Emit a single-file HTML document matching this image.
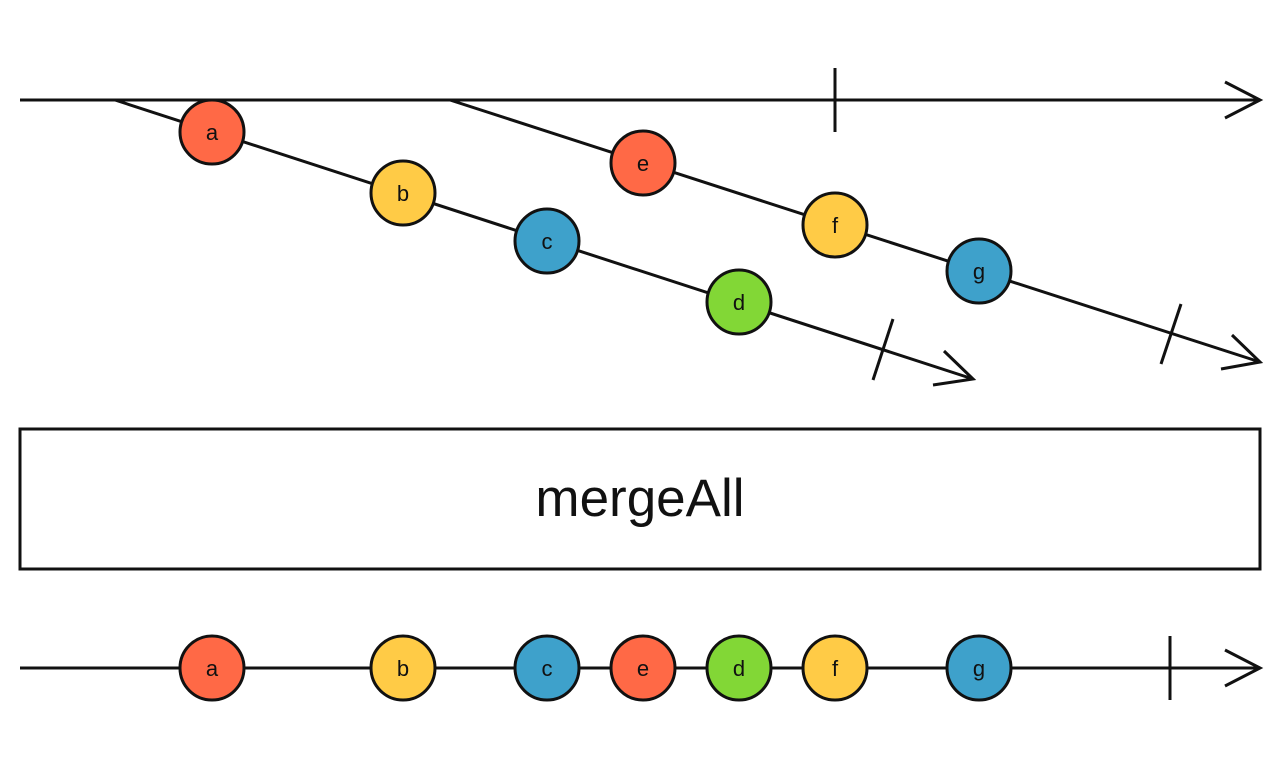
<!DOCTYPE html>
<html><head><meta charset="utf-8"><style>html,body{margin:0;padding:0;background:#fff;}svg{display:block}</style></head>
<body>
<svg width="1280" height="768" viewBox="0 0 1280 768" xmlns="http://www.w3.org/2000/svg">
<g stroke="#111" stroke-width="3" fill="none" stroke-linecap="butt">
<line x1="20" y1="100" x2="1260" y2="100"/>
<polyline points="1225,82 1260,100 1225,118"/>
<line x1="835" y1="68" x2="835" y2="132"/>
<line x1="115" y1="100" x2="973" y2="379"/>
<polyline points="944,351 973,379 933,385"/>
<line x1="893" y1="319" x2="873" y2="380"/>
<line x1="450" y1="100" x2="1260" y2="362"/>
<polyline points="1232,335 1260,362 1221,369"/>
<line x1="1181" y1="304" x2="1161" y2="364"/>
<rect x="20" y="429" width="1240" height="140"/>
<line x1="20" y1="668" x2="1260" y2="668"/>
<polyline points="1225,650 1260,668 1225,686"/>
<line x1="1170" y1="636" x2="1170" y2="700"/>
</g>
<g stroke="#111" stroke-width="3">
<circle cx="212" cy="132" r="32" fill="#ff6946"/>
<circle cx="403" cy="193" r="32" fill="#ffcb46"/>
<circle cx="547" cy="241" r="32" fill="#3ea1cb"/>
<circle cx="739" cy="302" r="32" fill="#82d736"/>
<circle cx="643" cy="163" r="32" fill="#ff6946"/>
<circle cx="835" cy="225" r="32" fill="#ffcb46"/>
<circle cx="979" cy="271" r="32" fill="#3ea1cb"/>
<circle cx="212" cy="668" r="32" fill="#ff6946"/>
<circle cx="403" cy="668" r="32" fill="#ffcb46"/>
<circle cx="547" cy="668" r="32" fill="#3ea1cb"/>
<circle cx="643" cy="668" r="32" fill="#ff6946"/>
<circle cx="739" cy="668" r="32" fill="#82d736"/>
<circle cx="835" cy="668" r="32" fill="#ffcb46"/>
<circle cx="979" cy="668" r="32" fill="#3ea1cb"/>
</g>
<g fill="#111" font-family="Liberation Sans, sans-serif" font-size="22" text-anchor="middle">
<text x="212" y="140">a</text>
<text x="403" y="201">b</text>
<text x="547" y="249">c</text>
<text x="739" y="310">d</text>
<text x="643" y="171">e</text>
<text x="835" y="233">f</text>
<text x="979" y="279">g</text>
<text x="212" y="676">a</text>
<text x="403" y="676">b</text>
<text x="547" y="676">c</text>
<text x="643" y="676">e</text>
<text x="739" y="676">d</text>
<text x="835" y="676">f</text>
<text x="979" y="676">g</text>
<text x="640" y="516" font-size="53">mergeAll</text>
</g>
</svg>
</body></html>
